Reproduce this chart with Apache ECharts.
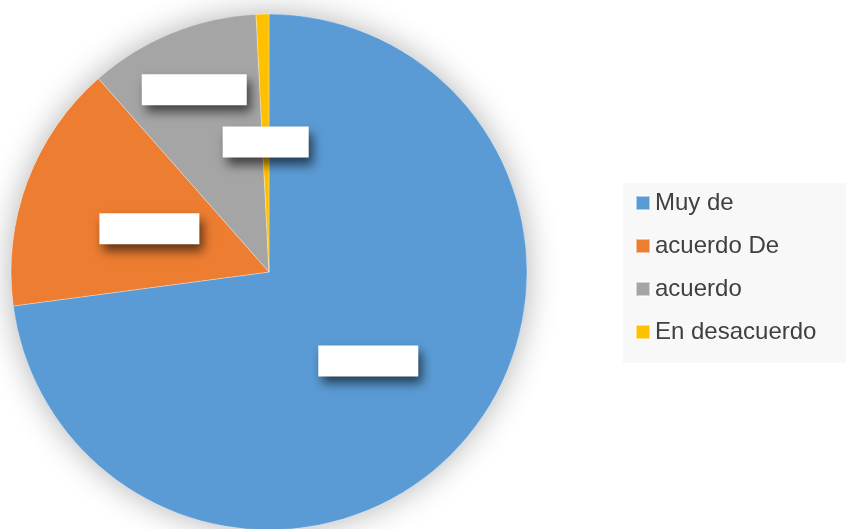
<!DOCTYPE html>
<html>
<head>
<meta charset="utf-8">
<script src="https://cdn.jsdelivr.net/npm/echarts@6/dist/echarts.min.js"></script>
<style>
  html, body { margin: 0; padding: 0; background: #ffffff; }
  #chart { width: 846px; height: 529px; }
</style>
</head>
<body>
<div id="chart"></div>
<script>
// Survey answers and their shares (%)
const categories = ['Muy de', 'acuerdo De', 'acuerdo', 'En desacuerdo'];
const shares = [72.9, 15.6, 10.7, 0.8];
const colors = ['#5B9BD5', '#ED7D31', '#A5A5A5', '#FFC000'];
const labelWidths = [100, 100, 105, 86];

const chart = echarts.init(document.getElementById('chart'), null, { renderer: 'canvas' });

const total = shares.reduce((a, b) => a + b, 0);

const pieData = categories.map((name, i) => ({
  name: name,
  value: shares[i],
  itemStyle: { color: colors[i] },
  label: { width: labelWidths[i] }
}));

chart.setOption({
  backgroundColor: '#ffffff',
  animation: false,
  legend: {
    orient: 'vertical',
    left: 623,
    top: 183,
    data: categories,
    icon: 'rect',
    itemWidth: 14,
    itemHeight: 14,
    itemGap: 19,
    backgroundColor: '#f8f8f8',
    padding: [8, 30, 19, 12],
    selectedMode: false,
    textStyle: {
      fontFamily: 'Liberation Sans, Arial, sans-serif',
      fontSize: 24,
      color: '#404040'
    }
  },
  series: [
    {
      // soft drop shadow under the whole pie
      type: 'pie',
      silent: true,
      z: 1,
      center: [269, 272],
      radius: 258,
      label: { show: false },
      labelLine: { show: false },
      data: [{
        name: '',
        value: total,
        itemStyle: {
          color: '#ffffff',
          shadowBlur: 32,
          shadowColor: 'rgba(0,0,0,0.3)'
        }
      }]
    },
    {
      type: 'pie',
      z: 2,
      center: [269, 272],
      radius: 258,
      startAngle: 90,
      clockwise: true,
      avoidLabelOverlap: false,
      itemStyle: { borderColor: 'rgba(255,255,255,0.5)', borderWidth: 0.6 },
      label: {
        show: true,
        position: 'inside',
        formatter: ' ',
        height: 31,
        padding: 0,
        backgroundColor: '#ffffff',
        shadowColor: 'rgba(0,0,0,0.6)',
        shadowBlur: 10,
        shadowOffsetX: 4,
        shadowOffsetY: 7
      },
      labelLine: { show: false },
      labelLayout: function (params) {
        // lift the small grey slice's label outward so it clears its neighbour
        if (params.dataIndex === 2) {
          return { dx: -25, dy: -60 };
        }
        if (params.dataIndex === 1) {
          return { dx: 4, dy: 3 };
        }
        return { dx: 0, dy: 2 };
      },
      data: pieData
    }
  ]
});
</script>
</body>
</html>
